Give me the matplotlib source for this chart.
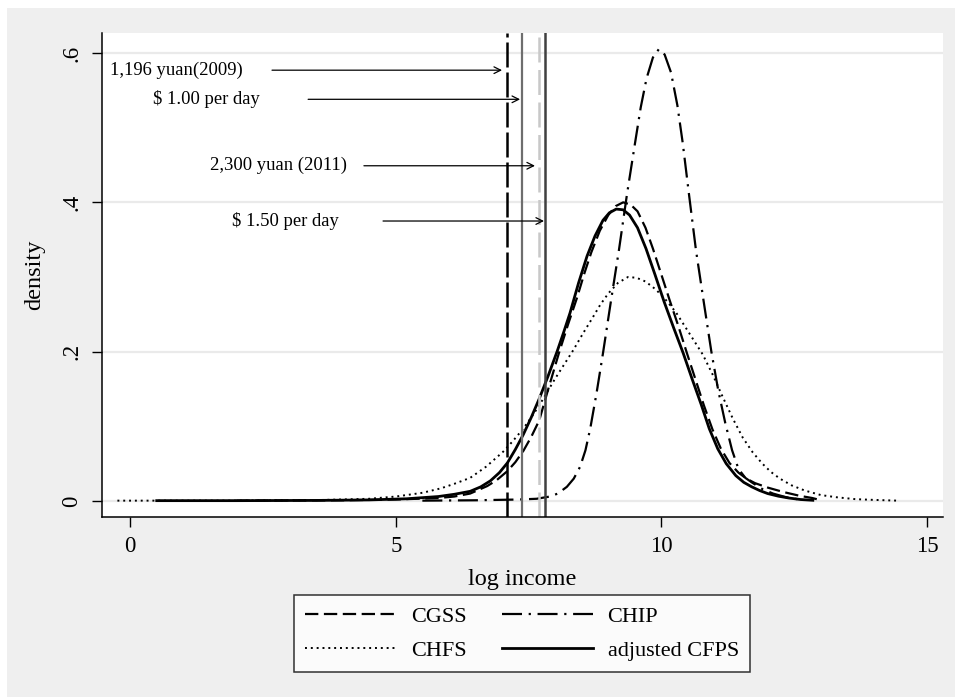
import matplotlib
matplotlib.use("Agg")
import matplotlib.pyplot as plt
from matplotlib.patches import Rectangle

plt.rcParams['font.family'] = ['Liberation Serif', 'DejaVu Serif']

# density curves (log income, density)
cfps_x = [0.5, 2.0, 3.5, 4.5, 5.2, 5.8, 6.1, 6.4, 6.6, 6.78, 6.95, 7.10, 7.25, 7.40, 7.55, 7.70,
          7.87, 8.04, 8.16, 8.28, 8.44, 8.60, 8.75, 8.90, 9.02, 9.15, 9.28, 9.40, 9.55, 9.71, 9.88,
          10.05, 10.23, 10.41, 10.58, 10.75, 10.90, 11.06, 11.22, 11.40, 11.55, 11.70, 11.85,
          12.00, 12.20, 12.40, 12.62, 12.85]
cfps_y = [0.0005, 0.0005, 0.0008, 0.0015, 0.003, 0.006, 0.009, 0.013, 0.019, 0.027, 0.038, 0.051,
          0.069, 0.089, 0.112, 0.137, 0.168, 0.201, 0.226, 0.252, 0.292, 0.328, 0.355, 0.376,
          0.386, 0.391, 0.390, 0.383, 0.366, 0.338, 0.303, 0.267, 0.232, 0.198, 0.163, 0.129,
          0.097, 0.070, 0.050, 0.034, 0.025, 0.019, 0.014, 0.010, 0.0065, 0.004, 0.002, 0.001]

cgss_x = [2.0, 4.0, 5.0, 5.8, 6.1, 6.4, 6.72, 6.9, 7.10, 7.25, 7.40, 7.55, 7.70, 7.87, 8.07, 8.24,
          8.41, 8.55, 8.68, 8.84, 9.00, 9.14, 9.28, 9.42, 9.55, 9.70, 9.84, 10.0, 10.15, 10.32,
          10.48, 10.64, 10.80, 10.96, 11.12, 11.28, 11.45, 11.6, 11.76, 12.0, 12.3, 12.6, 12.84,
          12.95]
cgss_y = [0.0005, 0.001, 0.002, 0.004, 0.006, 0.010, 0.020, 0.028, 0.040, 0.052, 0.067, 0.086,
          0.108, 0.150, 0.198, 0.236, 0.272, 0.305, 0.333, 0.362, 0.383, 0.395, 0.400, 0.397,
          0.388, 0.366, 0.338, 0.303, 0.270, 0.234, 0.198, 0.163, 0.128, 0.096, 0.070, 0.051,
          0.038, 0.030, 0.024, 0.018, 0.012, 0.007, 0.004, 0.002]

chfs_x = [-0.24, 2.0, 3.5, 4.5, 5.0, 5.5, 5.85, 6.1, 6.4, 6.7, 7.02, 7.2, 7.40, 7.55, 7.70, 7.85,
          8.0, 8.17, 8.34, 8.52, 8.7, 8.85, 9.0, 9.18, 9.37, 9.53, 9.7, 9.9, 10.1, 10.28, 10.45,
          10.62, 10.78, 10.96, 11.15, 11.34, 11.53, 11.72, 11.9, 12.06, 12.23, 12.45, 12.7, 13.0,
          13.3, 13.65, 14.0, 14.45]
chfs_y = [0.0005, 0.0005, 0.0012, 0.003, 0.006, 0.011, 0.017, 0.023, 0.031, 0.046, 0.066, 0.080,
          0.097, 0.112, 0.128, 0.146, 0.164, 0.183, 0.202, 0.224, 0.245, 0.263, 0.278, 0.292,
          0.300, 0.299, 0.294, 0.283, 0.268, 0.252, 0.233, 0.214, 0.196, 0.170, 0.140, 0.111,
          0.085, 0.065, 0.050, 0.039, 0.030, 0.021, 0.014, 0.008, 0.005, 0.0025, 0.0015, 0.0005]

chip_x = [5.5, 6.5, 7.3, 7.65, 7.90, 8.05, 8.22, 8.35, 8.47, 8.57, 8.66, 8.78, 8.90, 9.05, 9.20,
          9.35, 9.50, 9.61, 9.72, 9.84, 9.95, 10.06, 10.18, 10.30, 10.40, 10.52, 10.65, 10.80,
          10.94, 11.07, 11.20, 11.33, 11.45, 11.58, 11.70, 11.90, 12.10, 12.35, 12.60]
chip_y = [0.0005, 0.001, 0.002, 0.003, 0.006, 0.010, 0.019, 0.030, 0.046, 0.068, 0.097, 0.145,
          0.198, 0.268, 0.336, 0.410, 0.478, 0.527, 0.566, 0.594, 0.605, 0.598, 0.574, 0.530,
          0.480, 0.410, 0.336, 0.265, 0.200, 0.148, 0.105, 0.068, 0.043, 0.031, 0.025, 0.016,
          0.010, 0.005, 0.002]

# poverty lines (log income) and their labels
line_x = [7.09, 7.38, 7.70, 7.80]
line_labels = ['1,196 yuan(2009)', '$ 1.00 per day', '2,300 yuan (2011)', '$ 1.50 per day']
label_y = [0.577, 0.538, 0.449, 0.375]
label_right = [2.11, 2.45, 4.08, 3.93]
arrow_start = [2.67, 3.35, 4.40, 4.76]
arrow_end = [7.00, 7.34, 7.62, 7.79]

fig = plt.figure(figsize=(9.55, 6.97), dpi=100)
fig.patch.set_facecolor('white')
fig.patches.append(Rectangle((7 / 955, 0), 1, 1 - 8 / 697, transform=fig.transFigure,
                             facecolor='#efefef', edgecolor='none', zorder=-10))

ax = fig.add_axes([102 / 955, 1 - 517 / 697, (943 - 102) / 955, (517 - 33) / 697])
ax.set_facecolor('white')

for gy in [0, 0.2, 0.4, 0.6]:
    ax.axhline(gy, color='#eaeaea', lw=1.6, zorder=0)

l1, = ax.plot(cgss_x, cgss_y, color='black', lw=1.6, dashes=(6, 2.5), label='CGSS')
l2, = ax.plot(chip_x, chip_y, color='black', lw=1.6, dashes=(9, 3, 1, 3), label='CHIP')
l3, = ax.plot(chfs_x, chfs_y, color='black', lw=1.4, dashes=(1, 2), label='CHFS')
l4, = ax.plot(cfps_x, cfps_y, color='black', lw=2.0, label='adjusted CFPS')

ax.axvline(line_x[0], color='black', lw=1.8, dashes=(10, 2))
ax.axvline(line_x[1], color='#6e6e6e', lw=1.6)
ax.axvline(line_x[2], color='#c8c8c8', lw=1.8, dashes=(10, 3))
ax.axvline(line_x[3], color='#404040', lw=1.8)

for i in range(len(line_labels)):
    ax.text(label_right[i], label_y[i], line_labels[i], ha='right', va='center', fontsize=13.4)
    ax.annotate('', xy=(arrow_end[i], label_y[i]), xytext=(arrow_start[i], label_y[i]),
                arrowprops=dict(arrowstyle='->', color='black', lw=0.9, shrinkA=0, shrinkB=0,
                                mutation_scale=12))

ax.set_xlim(-0.53, 15.30)
ax.set_ylim(-0.0214, 0.6268)
ax.set_xticks([0, 5, 10, 15])
ax.set_yticks([0, 0.2, 0.4, 0.6])
ax.set_yticklabels(['0', '.2', '.4', '.6'], rotation=90, va='center')
ax.tick_params(labelsize=16.5, length=7, width=1, direction='out', pad=7)
for s in ['top', 'right']:
    ax.spines[s].set_visible(False)
for s in ['left', 'bottom']:
    ax.spines[s].set_linewidth(1.1)

ax.set_xlabel('log income', fontsize=17.5, labelpad=8)
ax.set_ylabel('density', fontsize=17.5, labelpad=12)

leg = fig.legend(handles=[l1, l3, l2, l4], loc='center', bbox_to_anchor=(522 / 955, 1 - 633.5 / 697),
                 ncol=2, fontsize=16, frameon=True, fancybox=False, edgecolor='black',
                 handlelength=4.1, handletextpad=0.65, columnspacing=1.6, borderpad=0.5,
                 labelspacing=0.62)
leg.get_frame().set_linewidth(1.1)

fig.savefig('out.png', dpi=100)
